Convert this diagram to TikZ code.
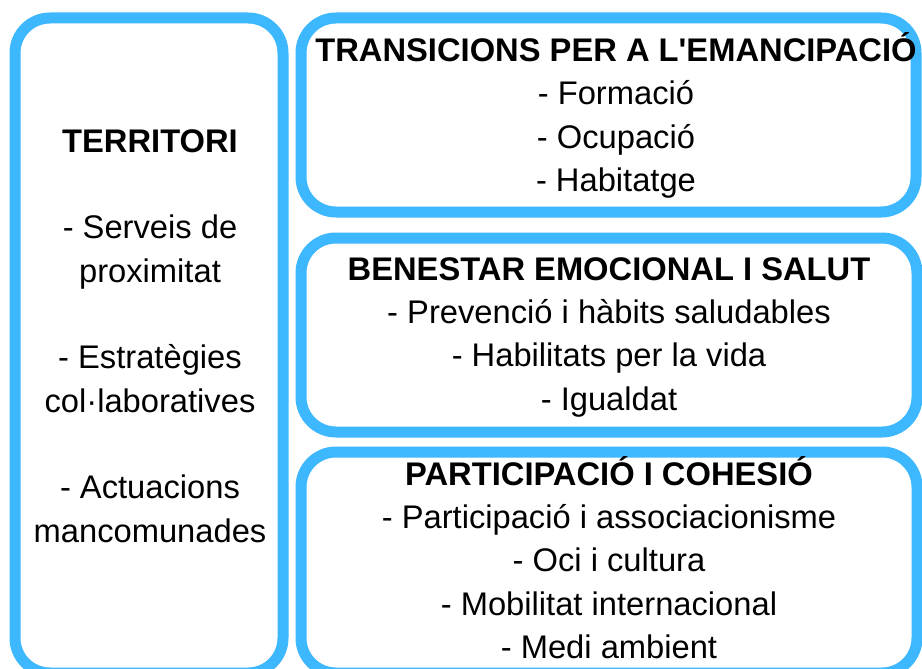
\documentclass[tikz,border=0pt]{standalone}
\usepackage{fontspec}
\setmainfont{Liberation Sans}
\newfontfamily\plainfont{Liberation Sans}
\definecolor{boxblue}{RGB}{61,183,253}
\begin{document}
\begin{tikzpicture}[x=1pt,y=-1pt,
  box/.style={draw=boxblue,line width=11pt,rounded corners=35pt,inner sep=0pt,outer sep=0pt,rectangle},
  txt/.style={anchor=base,inner sep=0pt,font=\plainfont\fontsize{32.7}{40}\selectfont},
  head/.style={txt,font=\plainfont\fontsize{32.7}{40}\selectfont\bfseries}]
\useasboundingbox (0,0) rectangle (922,669);
\fill[white] (0,0) rectangle (922,669);
% boxes
\node[box,minimum width=268pt,minimum height=655pt] (left) at (149,345.5) {};
\node[box,minimum width=615pt,minimum height=194pt] (top) at (608.5,115) {};
\node[box,minimum width=616pt,minimum height=194pt] (mid) at (609,335) {};
\node[box,minimum width=616pt,minimum height=221pt] (bot) at (609,562.5) {};
% left texts
\node[head] (l1) at (150,152) {TERRITORI};
\node[txt] (l2) at (150,238.6) {- Serveis de};
\node[txt] (l3) at (150,282) {proximitat};
\node[txt] (l4) at (150,368.5) {- Estratègies};
\node[txt] (l5) at (150,412) {col·laboratives};
\node[txt] (l6) at (150,498.5) {- Actuacions};
\node[txt] (l7) at (150,542) {mancomunades};
% top texts
\node[head] (t1) at (616,61.5) {TRANSICIONS PER A L'EMANCIPACIÓ};
\node[txt] (t2) at (616,104.7) {- Formació};
\node[txt] (t3) at (616,148) {- Ocupació};
\node[txt] (t4) at (616,191) {- Habitatge};
% middle texts
\node[head] (m1) at (609,280) {BENESTAR EMOCIONAL I SALUT};
\node[txt] (m2) at (609,323.3) {- Prevenció i hàbits saludables};
\node[txt] (m3) at (609,366.6) {- Habilitats per la vida};
\node[txt] (m4) at (609,410) {- Igualdat};
% bottom texts
\node[head] (b1) at (609,485) {PARTICIPACIÓ I COHESIÓ};
\node[txt] (b2) at (609,528.3) {- Participació i associacionisme};
\node[txt] (b3) at (609,571.6) {- Oci i cultura};
\node[txt] (b4) at (609,615) {- Mobilitat internacional};
\node[txt] (b5) at (609,658.3) {- Medi ambient};
\end{tikzpicture}
\end{document}
